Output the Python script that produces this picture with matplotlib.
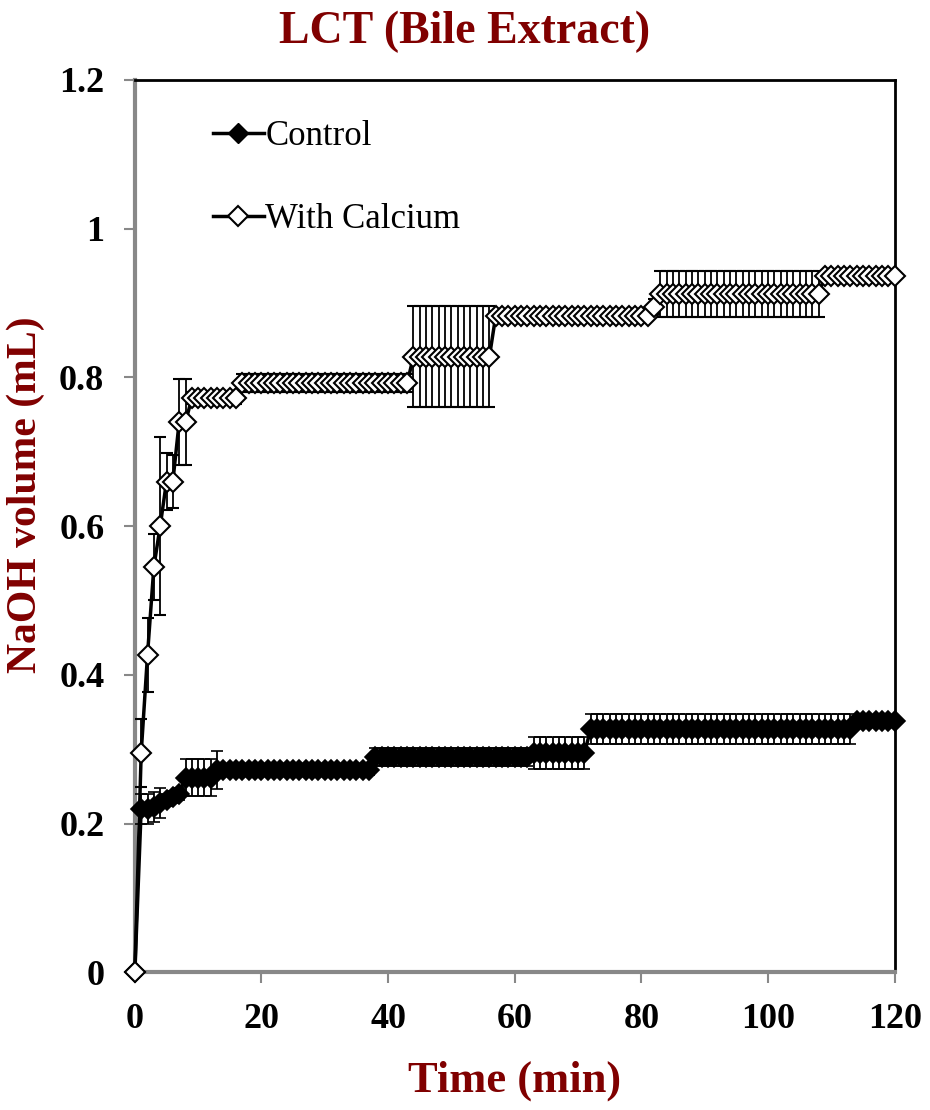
import matplotlib.pyplot as plt
from matplotlib.lines import Line2D

plt.rcParams['font.family'] = ['Liberation Serif', 'DejaVu Serif']

# time in minutes, one reading per minute
time = list(range(0, 121))

control = [
    0, 0.220, 0.220, 0.222, 0.228, 0.232, 0.236, 0.240,
    0.262, 0.262, 0.262, 0.262, 0.262,
    0.272, 0.272, 0.272, 0.272, 0.272, 0.272, 0.272, 0.272, 0.272, 0.272,
    0.272, 0.272, 0.272, 0.272, 0.272, 0.272, 0.272, 0.272, 0.272, 0.272,
    0.272, 0.272, 0.272, 0.272, 0.272,
    0.290, 0.290, 0.290, 0.290, 0.290, 0.290, 0.290, 0.290, 0.290, 0.290,
    0.290, 0.290, 0.290, 0.290, 0.290, 0.290, 0.290, 0.290, 0.290, 0.290,
    0.290, 0.290, 0.290, 0.290, 0.290,
    0.295, 0.295, 0.295, 0.295, 0.295, 0.295, 0.295, 0.295, 0.295,
    0.327, 0.327, 0.327, 0.327, 0.327, 0.327, 0.327, 0.327, 0.327, 0.327,
    0.327, 0.327, 0.327, 0.327, 0.327, 0.327, 0.327, 0.327, 0.327, 0.327,
    0.327, 0.327, 0.327, 0.327, 0.327, 0.327, 0.327, 0.327, 0.327, 0.327,
    0.327, 0.327, 0.327, 0.327, 0.327, 0.327, 0.327, 0.327, 0.327, 0.327,
    0.327, 0.327,
    0.338, 0.338, 0.338, 0.338, 0.338, 0.338, 0.338,
]
control_err = [
    0, 0.020, 0.020, 0.020, 0.020, 0.008, 0.008, 0.008,
    0.025, 0.025, 0.025, 0.025, 0.025, 0.025,
    0.006, 0.006, 0.006, 0.006, 0.006, 0.006, 0.006, 0.006, 0.006, 0.006,
    0.006, 0.006, 0.006, 0.006, 0.006, 0.006, 0.006, 0.006, 0.006, 0.006,
    0.006, 0.006, 0.006, 0.006,
    0.012, 0.012, 0.012, 0.012, 0.012, 0.012, 0.012, 0.012, 0.012, 0.012,
    0.012, 0.012, 0.012, 0.012, 0.012, 0.012, 0.012, 0.012, 0.012, 0.012,
    0.012, 0.012, 0.012, 0.012, 0.012,
    0.021, 0.021, 0.021, 0.021, 0.021, 0.021, 0.021, 0.021, 0.021,
    0.020, 0.020, 0.020, 0.020, 0.020, 0.020, 0.020, 0.020, 0.020, 0.020,
    0.020, 0.020, 0.020, 0.020, 0.020, 0.020, 0.020, 0.020, 0.020, 0.020,
    0.020, 0.020, 0.020, 0.020, 0.020, 0.020, 0.020, 0.020, 0.020, 0.020,
    0.020, 0.020, 0.020, 0.020, 0.020, 0.020, 0.020, 0.020, 0.020, 0.020,
    0.020, 0.020,
    0.004, 0.004, 0.004, 0.004, 0.004, 0.004, 0.004,
]

calcium = [
    0, 0.295, 0.427, 0.545, 0.600, 0.660, 0.660, 0.740, 0.740,
    0.772, 0.772, 0.772, 0.772, 0.772, 0.772, 0.772, 0.772,
    0.792, 0.792, 0.792, 0.792, 0.792, 0.792, 0.792, 0.792, 0.792, 0.792,
    0.792, 0.792, 0.792, 0.792, 0.792, 0.792, 0.792, 0.792, 0.792, 0.792,
    0.792, 0.792, 0.792, 0.792, 0.792, 0.792, 0.792,
    0.828, 0.828, 0.828, 0.828, 0.828, 0.828, 0.828, 0.828, 0.828, 0.828,
    0.828, 0.828, 0.828,
    0.883, 0.883, 0.883, 0.883, 0.883, 0.883, 0.883, 0.883, 0.883, 0.883,
    0.883, 0.883, 0.883, 0.883, 0.883, 0.883, 0.883, 0.883, 0.883, 0.883,
    0.883, 0.883, 0.883, 0.883, 0.883,
    0.895,
    0.912, 0.912, 0.912, 0.912, 0.912, 0.912, 0.912, 0.912, 0.912, 0.912,
    0.912, 0.912, 0.912, 0.912, 0.912, 0.912, 0.912, 0.912, 0.912, 0.912,
    0.912, 0.912, 0.912, 0.912, 0.912, 0.912,
    0.937, 0.937, 0.937, 0.937, 0.937, 0.937, 0.937, 0.937, 0.937, 0.937,
    0.937, 0.937,
]
calcium_err = [
    0, 0.046, 0.050, 0.044, 0.120, 0.038, 0.036, 0.058, 0.058,
    0.008, 0.008, 0.008, 0.008, 0.008, 0.008, 0.008, 0.008,
    0.012, 0.012, 0.012, 0.012, 0.012, 0.012, 0.012, 0.012, 0.012, 0.012,
    0.012, 0.012, 0.012, 0.012, 0.012, 0.012, 0.012, 0.012, 0.012, 0.012,
    0.012, 0.012, 0.012, 0.012, 0.012, 0.012, 0.012,
    0.068, 0.068, 0.068, 0.068, 0.068, 0.068, 0.068, 0.068, 0.068, 0.068,
    0.068, 0.068, 0.068,
    0.006, 0.006, 0.006, 0.006, 0.006, 0.006, 0.006, 0.006, 0.006, 0.006,
    0.006, 0.006, 0.006, 0.006, 0.006, 0.006, 0.006, 0.006, 0.006, 0.006,
    0.006, 0.006, 0.006, 0.006, 0.006,
    0.010,
    0.031, 0.031, 0.031, 0.031, 0.031, 0.031, 0.031, 0.031, 0.031, 0.031,
    0.031, 0.031, 0.031, 0.031, 0.031, 0.031, 0.031, 0.031, 0.031, 0.031,
    0.031, 0.031, 0.031, 0.031, 0.031, 0.031,
    0.005, 0.005, 0.005, 0.005, 0.005, 0.005, 0.005, 0.005, 0.005, 0.005,
    0.005, 0.005,
]

xticks = [0, 20, 40, 60, 80, 100, 120]
yticks = [0, 0.2, 0.4, 0.6, 0.8, 1.0, 1.2]
ytick_labels = ['0', '0.2', '0.4', '0.6', '0.8', '1', '1.2']

dark_red = '#800000'

fig = plt.figure(figsize=(9.3, 11.1), dpi=100)
ax = fig.add_axes([0.145, 0.124, 0.817, 0.804])

ctrl = ax.errorbar(time, control, yerr=control_err, color='black', lw=2.5,
                   marker='D', ms=10, mfc='black', mec='black', mew=1.2,
                   ecolor='black', elinewidth=1.3, capsize=4.5, capthick=1.3,
                   zorder=3)
calc = ax.errorbar(time, calcium, yerr=calcium_err, color='black', lw=2.5,
                   marker='D', ms=10, mfc='white', mec='black', mew=1.5,
                   ecolor='black', elinewidth=1.3, capsize=4.5, capthick=1.3,
                   zorder=4)
for art in (ctrl, calc):
    art.lines[0].set_clip_on(False)

ax.set_xlim(0, 120)
ax.set_ylim(0, 1.2)
ax.set_xticks(xticks)
ax.set_yticks(yticks)
ax.set_yticklabels(ytick_labels)
ax.tick_params(axis='both', direction='out', length=8, width=1.5,
               color='#888888', labelsize=26, pad=14)
for lab in ax.get_xticklabels() + ax.get_yticklabels():
    lab.set_fontweight('bold')

ax.spines['left'].set_color('#888888')
ax.spines['bottom'].set_color('#888888')
ax.spines['left'].set_linewidth(3)
ax.spines['bottom'].set_linewidth(3)
ax.spines['top'].set_linewidth(2)
ax.spines['right'].set_linewidth(2)

ax.set_xlabel('Time (min)', fontsize=32, fontweight='bold', color=dark_red, labelpad=18)
ax.set_ylabel('NaOH volume (mL)', fontsize=30, fontweight='bold', color=dark_red)
ax.yaxis.set_label_coords(-0.118, 0.535)
fig.suptitle('LCT (Bile Extract)', fontsize=33, fontweight='bold', color=dark_red, y=0.99)

handles = [
    Line2D([], [], color='black', lw=2.5, marker='D', ms=10, mfc='black', mec='black'),
    Line2D([], [], color='black', lw=2.5, marker='D', ms=10, mfc='white', mec='black', mew=1.5),
]
ax.legend(handles, ['Control', 'With Calcium'], loc='upper left',
          bbox_to_anchor=(0.062, 0.99), frameon=False, fontsize=25,
          labelspacing=1.45, handlelength=1.45, handletextpad=0.05)

fig.savefig('out.png', dpi=100)
